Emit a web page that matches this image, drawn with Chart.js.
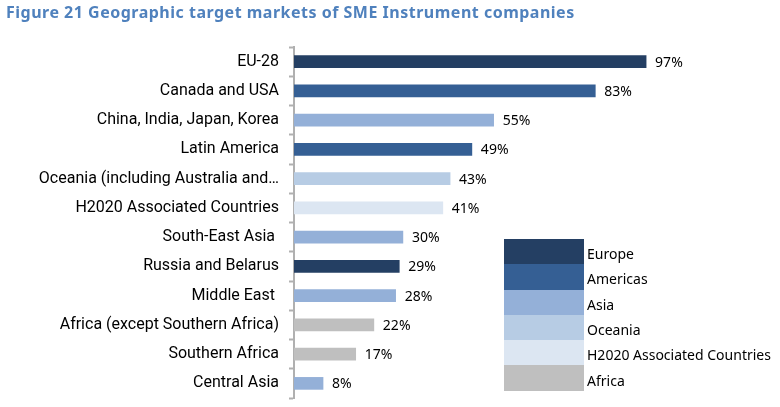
<!DOCTYPE html>
<html>
<head>
<meta charset="utf-8">
<script src="https://cdn.jsdelivr.net/npm/chart.js@4"></script>
<style>
    html, body { margin: 0; padding: 0; background: #fff; }
    #wrap { position: relative; width: 780px; height: 407px; overflow: hidden; }
    #title { position: absolute; left: 6px; top: 1px; font: bold 16px "Noto Sans", sans-serif; letter-spacing: 0.5px; color: #4f81bd; white-space: nowrap; }
    #legend { position: absolute; left: 504px; top: 239px; font: 14px "Noto Sans", sans-serif; color: #000; }
    .row { display: flex; align-items: center; height: 25.3px; }
    .row i { display: block; width: 80px; height: 100%; margin-right: 3px; }
    .row span { white-space: nowrap; position: relative; top: 2px; }
</style>
</head>
<body>
<div id="wrap">
    <canvas id="chart" width="780" height="407"></canvas>
    <div id="title">Figure 21 Geographic target markets of SME Instrument companies</div>
    <div id="legend"></div>
</div>
<script>
const categories = [
    'EU-28', 'Canada and USA', 'China, India, Japan, Korea', 'Latin America',
    'Oceania (including Australia and\u2026', 'H2020 Associated Countries', 'South-East Asia ',
    'Russia and Belarus', 'Middle East ', 'Africa (except Southern Africa)', 'Southern Africa', 'Central Asia'
];
const shares = [97, 83, 55, 49, 43, 41, 30, 29, 28, 22, 17, 8];
const regions = [
    'Europe', 'Americas', 'Asia', 'Americas', 'Oceania', 'H2020 Associated Countries', 'Asia',
    'Europe', 'Asia', 'Africa', 'Africa', 'Asia'
];
const legendNames = ['Europe', 'Americas', 'Asia', 'Oceania', 'H2020 Associated Countries', 'Africa'];
const legendColors = ['#243f63', '#355f94', '#94b0d8', '#b7cce4', '#dce6f2', '#bfbfbf'];

const colorOf = name => legendColors[legendNames.indexOf(name)];

// html legend, the swatches touch each other like in the original
const legendEl = document.getElementById('legend');
legendNames.forEach((name, i) => {
    const row = document.createElement('div');
    row.className = 'row';
    const box = document.createElement('i');
    box.style.background = legendColors[i];
    const text = document.createElement('span');
    text.textContent = name;
    row.append(box, text);
    legendEl.appendChild(row);
});

// percent labels right of each bar
const valueLabels = {
    id: 'valueLabels',
    afterDatasetsDraw(chart) {
        const { ctx } = chart;
        ctx.save();
        ctx.font = '14px "Noto Sans", sans-serif';
        ctx.fillStyle = '#000';
        ctx.textBaseline = 'middle';
        chart.getDatasetMeta(0).data.forEach((bar, i) => {
            ctx.fillText(shares[i] + '%', bar.x + 9, bar.y + 1);
        });
        ctx.restore();
    }
};

new Chart(document.getElementById('chart'), {
    type: 'bar',
    data: {
        labels: categories,
        datasets: [{
            data: shares,
            backgroundColor: regions.map(colorOf),
            barThickness: 12
        }]
    },
    plugins: [valueLabels],
    options: {
        indexAxis: 'y',
        responsive: false,
        animation: false,
        layout: { padding: { top: 47, bottom: 9, left: 0, right: 123 } },
        plugins: { legend: { display: false }, tooltip: { enabled: false } },
        scales: {
            x: { display: false, min: 0, max: 100 },
            y: {
                afterFit(scale) {
                    scale.width = 294;
                    // the label half-height would otherwise eat the bottom of the plot
                    scale.paddingBottom = 0;
                },
                border: { color: '#b0b0b0', width: 2 },
                grid: { drawOnChartArea: false, color: '#b0b0b0', tickLength: 5, tickWidth: 2 },
                ticks: {
                    color: '#000',
                    padding: 10,
                    autoSkip: false,
                    font: { family: 'Roboto, sans-serif', size: 16 }
                }
            }
        }
    }
});
</script>
</body>
</html>
